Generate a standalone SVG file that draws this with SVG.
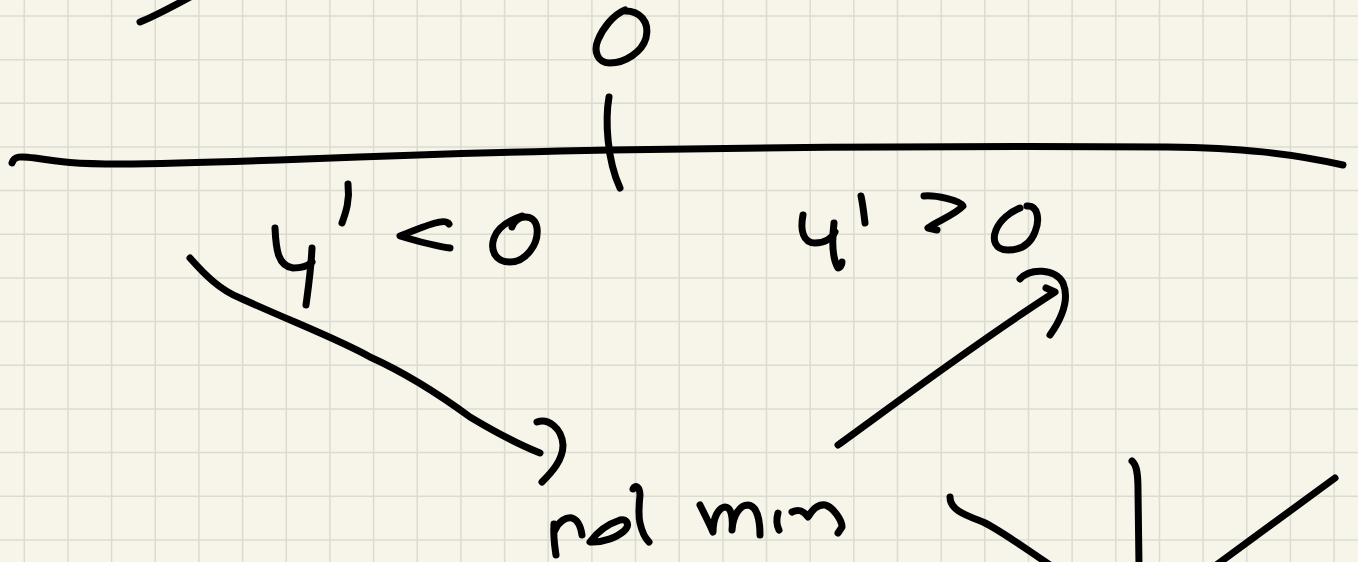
<svg xmlns="http://www.w3.org/2000/svg" width="1358" height="562" viewBox="0 0 1358 562">
<style>
.g{stroke:#dcdbcf;stroke-width:1.5;fill:none}
.s{stroke:#000;stroke-width:7;fill:none;stroke-linecap:round;stroke-linejoin:round}
</style>
<rect width="1358" height="562" fill="#f7f5ea"/>
<g id="grid">
<path class="g" d="M24.3,0V562M68,0V562M111.6,0V562M155.3,0V562M198.9,0V562M242.6,0V562M286.3,0V562M329.9,0V562M373.6,0V562M417.2,0V562M460.9,0V562M504.6,0V562M548.2,0V562M591.9,0V562M635.5,0V562M679.2,0V562M722.9,0V562M766.5,0V562M810.2,0V562M853.8,0V562M897.5,0V562M941.2,0V562M984.8,0V562M1028.5,0V562M1072.1,0V562M1115.8,0V562M1159.5,0V562M1203.1,0V562M1246.8,0V562M1290.4,0V562M1334.1,0V562"/>
<path class="g" d="M0,16H1358M0,59.7H1358M0,103.3H1358M0,147H1358M0,190.6H1358M0,234.3H1358M0,278H1358M0,321.6H1358M0,365.3H1358M0,408.9H1358M0,452.6H1358M0,496.3H1358M0,539.9H1358"/>
</g>
<g id="top-stroke"><path class="s" d="M140,22 C150,18 170,8 192,-4"/></g>
<g id="zero-top"><path class="s" d="M623,11 C640,10 650,22 646,38 C642,52 625,63 610,63 C598,63 593,52 598,40 C603,28 613,15 625,10"/></g>
<g id="axis">
<path class="s" d="M12,163 C14,156 20,156 35,158 C60,162 75,164 120,164 C250,163 350,155 610,150 C800,147 1000,146 1167,147 C1240,148 1290,153 1343,165"/>
<path class="s" d="M609,97 C605,120 607,160 620,188"/>
</g>
<g id="label-neg">
<path class="s" d="M275,228 C276,250 278,266 293,268 C302,268 309,265 312,262"/>
<path class="s" d="M312,248 C311,270 308,290 306,305"/>
<path class="s" d="M348,184 C350,200 346,212 342,223"/>
<path class="s" d="M449,224 C445,218 430,224 400,236 C420,242 435,246 450,248"/>
<path class="s" d="M512,227 C515,215 535,212 537,228 C539,245 525,262 510,262 C495,262 490,250 494,238 C498,226 510,220 522,216"/>
</g>
<g id="label-pos">
<path class="s" d="M803,215 C800,230 803,243 815,243 C825,243 832,238 835,232"/>
<path class="s" d="M834,223 C832,240 832,258 838,268 C840,268 842,265 842,262"/>
<path class="s" d="M861,196 C863,205 864,215 865,223"/>
<path class="s" d="M924,196 C935,195 960,200 963,206 C955,215 935,222 928,228 L937,230"/>
<path class="s" d="M1027,206 C1038,205 1040,220 1035,232 C1030,245 1020,250 1008,250 C995,250 992,240 996,230 C1000,220 1010,212 1020,208"/>
</g>
<g id="connectors">
<path class="s" d="M190,258 C205,275 220,290 240,298 C300,325 340,340 370,357 C410,375 440,395 470,417 C500,435 520,445 540,453"/>
<path class="s" d="M537,422 C548,418 562,428 563,445 C563,460 552,472 542,482"/>
<path class="s" d="M838,445 C900,400 980,340 1055,292 L1046,288"/>
<path class="s" d="M1020,279 C1030,268 1055,268 1063,283 C1070,300 1062,318 1050,335"/>
</g>
<g id="rel-min">
<path class="s" d="M554,524 C553,538 555,548 556,555"/>
<path class="s" d="M555,530 C559,521 566,517 572,518 C578,520 581,528 582,535"/>
<path class="s" d="M590,542 C597,532 608,524 620,520 C628,518 630,526 624,531 C616,538 603,542 593,542"/>
<path class="s" d="M633,489 C635,484 640,487 640,495 C639,505 638,515 640,523 C642,532 645,538 649,542"/>
<path class="s" d="M700,505 C705,515 710,525 713,532 C713,518 718,508 725,507 C732,507 733,520 732,530 C733,515 740,505 748,505 C757,506 760,520 760,535"/>
<path class="s" d="M778,513 C776,520 777,526 779,530"/>
<path class="s" d="M792,512 C798,509 803,510 808,517 C812,510 818,504 825,505 C833,507 842,520 842,527 L838,533"/>
</g>
<g id="bottom-right">
<path class="s" d="M950,497 C950,510 965,515 983,522 C1000,530 1020,545 1050,565"/>
<path class="s" d="M1132,461 C1137,465 1138,475 1138,490 L1139,566"/>
<path class="s" d="M1335,478 L1215,566"/>
</g>
</svg>
